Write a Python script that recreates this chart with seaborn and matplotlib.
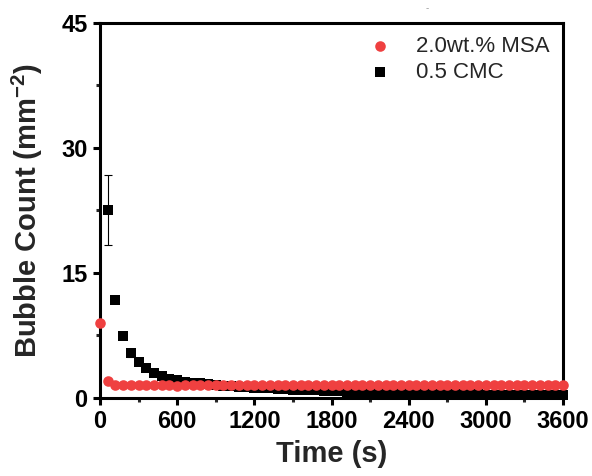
import numpy as np
import pandas as pd
import matplotlib
matplotlib.use("Agg")
import matplotlib.pyplot as plt
import seaborn as sns
from matplotlib.ticker import MultipleLocator

sns.set_style("ticks")
plt.rcParams['font.family'] = ['Liberation Sans', 'DejaVu Sans']
plt.rcParams['mathtext.fontset'] = 'custom'
plt.rcParams['mathtext.rm'] = 'Liberation Sans'
plt.rcParams['mathtext.bf'] = 'Liberation Sans:bold'

# ---- data ----
msa_time = list(range(0, 3601, 60))
msa_count = [9.0, 2.0, 1.5, 1.6, 1.6, 1.5, 1.5, 1.5, 1.6, 1.5,
             1.4, 1.5, 1.5, 1.5, 1.6, 1.5, 1.5, 1.6, 1.5, 1.5,
             1.6, 1.5, 1.5, 1.6, 1.5, 1.5, 1.5, 1.6, 1.5, 1.5,
             1.5, 1.6, 1.6, 1.5, 1.5, 1.5, 1.6, 1.5, 1.5, 1.5,
             1.5, 1.6, 1.5, 1.5, 1.5, 1.5, 1.5, 1.6, 1.5, 1.5,
             1.5, 1.5, 1.6, 1.5, 1.5, 1.5, 1.5, 1.5, 1.6, 1.6,
             1.6]

cmc_time = list(range(60, 3601, 60))
cmc_count = [22.6, 11.7, 7.4, 5.4, 4.3, 3.6, 3.0, 2.6, 2.3, 2.1,
             1.95, 1.85, 1.75, 1.65, 1.55, 1.45, 1.4, 1.35, 1.3, 1.25,
             1.2, 1.15, 1.1, 1.05, 1.0, 0.97, 0.93, 0.9, 0.87, 0.84,
             0.8, 0.77, 0.74, 0.72, 0.7, 0.67, 0.65, 0.63, 0.6, 0.58,
             0.56, 0.54, 0.52, 0.5, 0.48, 0.46, 0.45, 0.43, 0.42, 0.4,
             0.39, 0.37, 0.36, 0.35, 0.34, 0.33, 0.32, 0.31, 0.3, 0.3]
cmc_err = [4.2, 0.3, 0.3, 0.5, 0.25, 0.2, 0.2, 0.2, 0.2, 0.2,
           0.25, 0.25, 0.25, 0.25, 0.25, 0.25, 0.25, 0.25, 0.25, 0.25,
           0.25, 0.25, 0.2, 0.2, 0.2, 0.2, 0.2, 0.2, 0.2, 0.2,
           0.15, 0.15, 0.15, 0.15, 0.15, 0.15, 0.15, 0.15, 0.15, 0.15,
           0.1, 0.1, 0.1, 0.1, 0.1, 0.1, 0.1, 0.1, 0.1, 0.1,
           0.1, 0.1, 0.1, 0.1, 0.1, 0.1, 0.1, 0.1, 0.1, 0.1]

labels = ["2.0wt.% MSA", "0.5 CMC"]
red = "#ef4040"

fig = plt.figure(figsize=(5.92, 4.76), dpi=100)
ax = fig.add_axes([0.169, 0.164, 0.782, 0.788])

msa_df = pd.DataFrame({"t": msa_time, "y": msa_count})
cmc_df = pd.DataFrame({"t": cmc_time, "y": cmc_count})

ax.errorbar(cmc_time, cmc_count, yerr=cmc_err, fmt='none', ecolor='black',
            elinewidth=0.8, capsize=3, capthick=0.8, zorder=2, clip_on=False)
sns.scatterplot(data=cmc_df, x="t", y="y", ax=ax, marker='s', s=48, color='black',
                edgecolor='black', linewidth=0, label=labels[1], zorder=3, clip_on=False)
sns.scatterplot(data=msa_df, x="t", y="y", ax=ax, marker='o', s=58, color=red,
                edgecolor=red, linewidth=0, label=labels[0], zorder=4, clip_on=False)

ax.set_xlim(0, 3600)
ax.set_ylim(0, 45)
ax.xaxis.set_major_locator(MultipleLocator(600))
ax.xaxis.set_minor_locator(MultipleLocator(300))
ax.yaxis.set_major_locator(MultipleLocator(15))
ax.yaxis.set_minor_locator(MultipleLocator(7.5))

for sp in ax.spines.values():
    sp.set_visible(True)
    sp.set_linewidth(2.2)
    sp.set_color('black')
ax.tick_params(which='major', direction='out', length=5, width=2.2, labelsize=17, pad=4, colors='black')
ax.tick_params(which='minor', direction='out', length=3, width=2.2)
for lab in ax.get_xticklabels() + ax.get_yticklabels():
    lab.set_fontweight('bold')

ax.set_xlabel("Time (s)", fontsize=21, fontweight='bold', labelpad=5)
ax.set_ylabel("Bubble Count (mm$^{\\mathbf{-2}}$)", fontsize=21, fontweight='bold', labelpad=12)

handles, labs = ax.get_legend_handles_labels()
order = [labs.index(labels[0]), labs.index(labels[1])]
leg = ax.legend([handles[i] for i in order], [labs[i] for i in order],
                loc='upper right', frameon=False, fontsize=16,
                handletextpad=0.6, borderaxespad=0.2, labelspacing=0.2,
                bbox_to_anchor=(1.0, 1.0))

fig.text(427 / 592, 1 - 8 / 476, "-", color='#999999', fontsize=7, ha='center', va='center')

fig.savefig("out.png", dpi=100)
